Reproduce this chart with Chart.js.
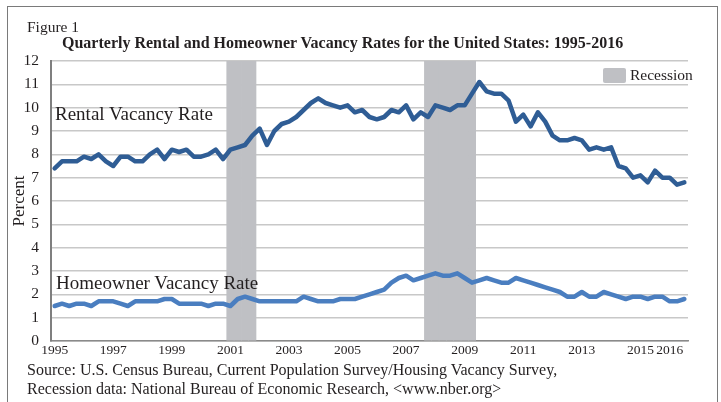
<!DOCTYPE html>
<html>
<head>
<meta charset="utf-8">
<script src="https://cdn.jsdelivr.net/npm/chart.js@4"></script>
<style>
body { margin: 0; background: #fff; font-family: "Liberation Serif", "Times New Roman", serif; }
#wrap { position: relative; width: 721px; height: 402px; overflow: hidden; }
#frame { position: absolute; left: 7px; top: 6px; width: 709px; height: 430px; border: 1.5px solid #7a7a7a; }
canvas { position: absolute; left: 0; top: 0; }
.txt { position: absolute; white-space: nowrap; color: #231f20; line-height: 1; }
#legendBox { position: absolute; left: 603px; top: 68px; width: 23px; height: 15px; background: #bfc0c4; border-radius: 2px; }
</style>
</head>
<body>
<div id="wrap">
  <div id="frame"></div>
  <canvas id="vacancyChart" width="721" height="402"></canvas>
  <div class="txt" style="left:27px; top:19px; font-size:15.5px;">Figure 1</div>
  <div class="txt" style="left:62px; top:35px; font-size:16px; font-weight:bold;">Quarterly Rental and Homeowner Vacancy Rates for the United States: 1995-2016</div>
  <div id="legendBox"></div>
  <div class="txt" style="left:630px; top:67px; font-size:15.5px;">Recession</div>
  <div class="txt" style="left:55px; top:104px; font-size:19px;">Rental Vacancy Rate</div>
  <div class="txt" style="left:56px; top:273px; font-size:19px;">Homeowner Vacancy Rate</div>
  <div class="txt" style="left:27px; top:362px; font-size:16px;">Source: U.S. Census Bureau, Current Population Survey/Housing Vacancy Survey,</div>
  <div class="txt" style="left:27px; top:381px; font-size:16px;">Recession data: National Bureau of Economic Research, &lt;www.nber.org&gt;</div>
</div>
<script>
// quarterly categories 1995 Q1 .. 2016 Q3
const years = [];
for (let y = 1995; y <= 2016; y++) years.push(y);
const quarters = [];
years.forEach(y => ['Q1', 'Q2', 'Q3', 'Q4'].forEach(q => quarters.push(y + ' ' + q)));
quarters.length = 87; // data ends at 2016 Q3

// years that get a label on the x axis (at Q1)
const tickYears = ['1995', '1997', '1999', '2001', '2003', '2005', '2007', '2009', '2011', '2013', '2015', '2016'];

// Rental vacancy rate (%)
const rentalRate = [
    7.4, 7.7, 7.7, 7.7,   // 1995
    7.9, 7.8, 8.0, 7.7,   // 1996
    7.5, 7.9, 7.9, 7.7,   // 1997
    7.7, 8.0, 8.2, 7.8,   // 1998
    8.2, 8.1, 8.2, 7.9,   // 1999
    7.9, 8.0, 8.2, 7.8,   // 2000
    8.2, 8.3, 8.4, 8.8,   // 2001
    9.1, 8.4, 9.0, 9.3,   // 2002
    9.4, 9.6, 9.9, 10.2,  // 2003
    10.4, 10.2, 10.1, 10.0, // 2004
    10.1, 9.8, 9.9, 9.6,  // 2005
    9.5, 9.6, 9.9, 9.8,   // 2006
    10.1, 9.5, 9.8, 9.6,  // 2007
    10.1, 10.0, 9.9, 10.1, // 2008
    10.1, 10.6, 11.1, 10.7, // 2009
    10.6, 10.6, 10.3, 9.4, // 2010
    9.7, 9.2, 9.8, 9.4,   // 2011
    8.8, 8.6, 8.6, 8.7,   // 2012
    8.6, 8.2, 8.3, 8.2,   // 2013
    8.3, 7.5, 7.4, 7.0,   // 2014
    7.1, 6.8, 7.3, 7.0,   // 2015
    7.0, 6.7, 6.8         // 2016
];

// Homeowner vacancy rate (%)
const homeownerRate = [
    1.5, 1.6, 1.5, 1.6,   // 1995
    1.6, 1.5, 1.7, 1.7,   // 1996
    1.7, 1.6, 1.5, 1.7,   // 1997
    1.7, 1.7, 1.7, 1.8,   // 1998
    1.8, 1.6, 1.6, 1.6,   // 1999
    1.6, 1.5, 1.6, 1.6,   // 2000
    1.5, 1.8, 1.9, 1.8,   // 2001
    1.7, 1.7, 1.7, 1.7,   // 2002
    1.7, 1.7, 1.9, 1.8,   // 2003
    1.7, 1.7, 1.7, 1.8,   // 2004
    1.8, 1.8, 1.9, 2.0,   // 2005
    2.1, 2.2, 2.5, 2.7,   // 2006
    2.8, 2.6, 2.7, 2.8,   // 2007
    2.9, 2.8, 2.8, 2.9,   // 2008
    2.7, 2.5, 2.6, 2.7,   // 2009
    2.6, 2.5, 2.5, 2.7,   // 2010
    2.6, 2.5, 2.4, 2.3,   // 2011
    2.2, 2.1, 1.9, 1.9,   // 2012
    2.1, 1.9, 1.9, 2.1,   // 2013
    2.0, 1.9, 1.8, 1.9,   // 2014
    1.9, 1.8, 1.9, 1.9,   // 2015
    1.7, 1.7, 1.8         // 2016
];

// NBER recessions (first and last quarter shaded)
const recessions = [['2001 Q1', '2001 Q4'], ['2007 Q4', '2009 Q2']];
const recessionTop = 12;

const recessionData = quarters.map((q, i) => {
    const hit = recessions.some(r => i >= quarters.indexOf(r[0]) && i <= quarters.indexOf(r[1]));
    return hit ? recessionTop : null;
});

const serif = '"Liberation Serif", "Times New Roman", serif';
const ctx = document.getElementById('vacancyChart').getContext('2d');

const vacancyChart = new Chart(ctx, {
    data: {
        labels: quarters,
        datasets: [
            {
                type: 'line',
                label: 'Rental Vacancy Rate',
                data: rentalRate,
                borderColor: '#2f5d95',
                borderWidth: 4.5,
                pointRadius: 0,
                borderJoinStyle: 'round',
                borderCapStyle: 'round',
                tension: 0,
                order: 1
            },
            {
                type: 'line',
                label: 'Homeowner Vacancy Rate',
                data: homeownerRate,
                borderColor: '#4a7ec0',
                borderWidth: 4.5,
                pointRadius: 0,
                borderJoinStyle: 'round',
                borderCapStyle: 'round',
                tension: 0,
                order: 2
            },
            {
                type: 'bar',
                label: 'Recession',
                data: recessionData,
                backgroundColor: '#bfc0c4',
                borderWidth: 0,
                barPercentage: 1,
                categoryPercentage: 1,
                order: 3
            }
        ]
    },
    options: {
        responsive: false,
        animation: false,
        layout: { padding: { left: 0, right: 33, top: 61, bottom: 39 } },
        plugins: {
            legend: { display: false },
            tooltip: { enabled: false }
        },
        scales: {
            x: {
                offset: true,
                grid: { display: false, drawTicks: false },
                border: { display: true, color: '#8a8a8a', width: 1.5 },
                ticks: {
                    autoSkip: false,
                    maxRotation: 0,
                    padding: 1,
                    color: '#231f20',
                    font: { family: serif, size: 13.5 },
                    callback: function (value, index) {
                        const parts = quarters[index].split(' ');
                        return (parts[1] === 'Q1' && tickYears.includes(parts[0])) ? parts[0] : '';
                    }
                },
                afterFit: function (scale) { scale.height = 22; }
            },
            y: {
                min: 0,
                max: 12,
                grid: { color: '#c8c8c8', lineWidth: 1.5, drawTicks: false },
                border: { display: true, color: '#7f7f7f', width: 2 },
                ticks: {
                    stepSize: 1,
                    padding: 12,
                    color: '#231f20',
                    font: { family: serif, size: 15.5 }
                },
                title: {
                    display: true,
                    text: 'Percent',
                    color: '#231f20',
                    padding: { top: 9, bottom: 0 },
                    font: { family: serif, size: 17 }
                },
                afterFit: function (scale) { scale.width = 51; }
            }
        }
    }
});
</script>
</body>
</html>
